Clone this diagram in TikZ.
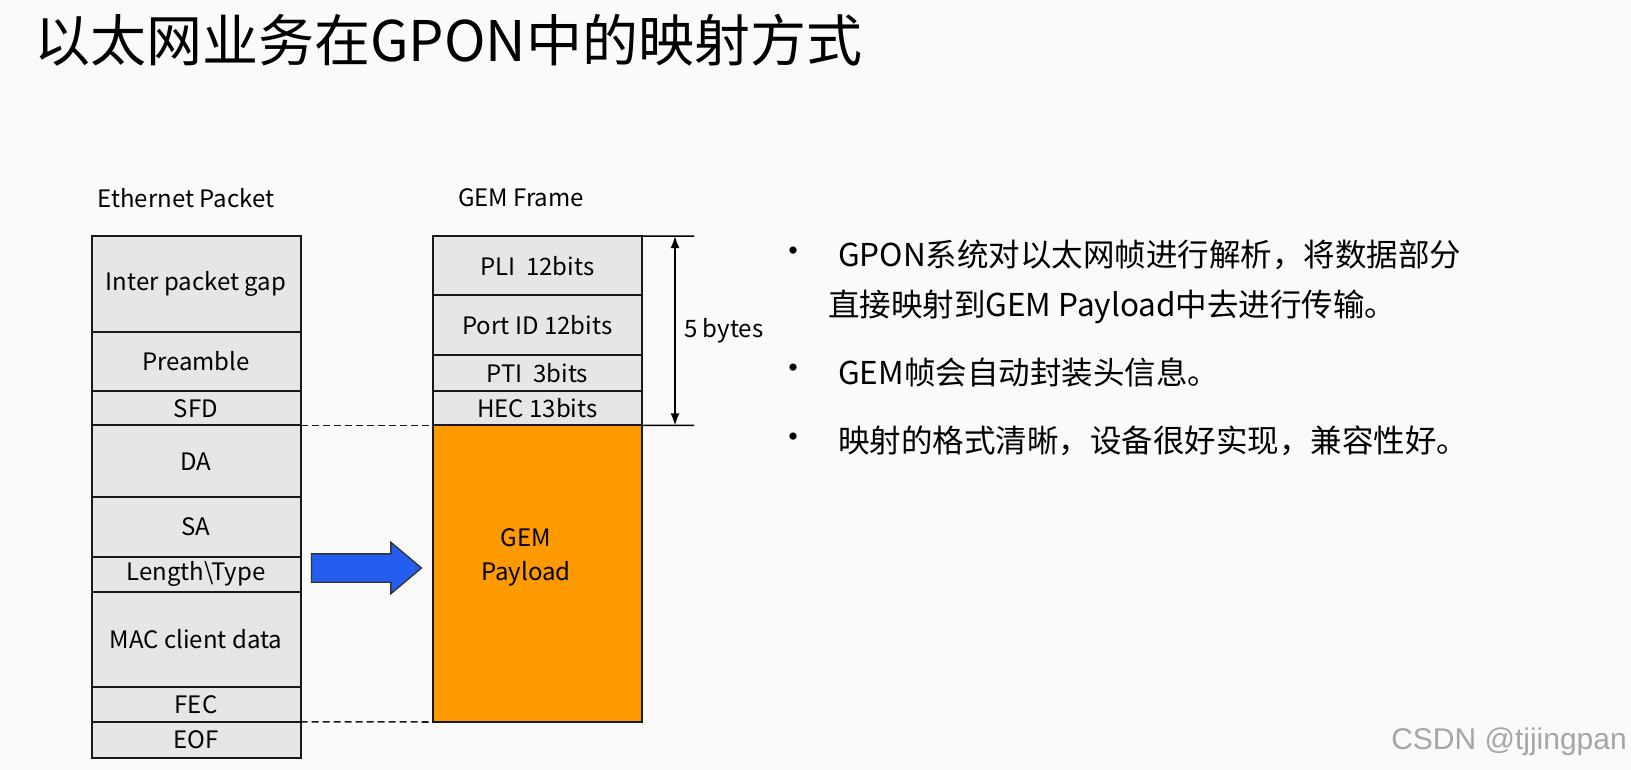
\documentclass[tikz,border=0pt]{standalone}
\usepackage{fontspec}
\setmainfont{Noto Sans CJK SC}
\newfontfamily\wmfont{Liberation Sans}
\usetikzlibrary{arrows.meta,shapes.arrows}
\definecolor{cellgray}{RGB}{230,230,230}
\definecolor{payloadorange}{RGB}{255,153,0}
\definecolor{mapblue}{RGB}{36,94,240}
\definecolor{pagebg}{RGB}{250,250,250}

\begin{document}
\begin{tikzpicture}[
  x=1pt,y=-1pt,
  field/.style={draw=black!90,line width=2pt,fill=cellgray,minimum width=209pt,
    inner sep=0pt,outer sep=0pt,font=\fontsize{24}{28}\selectfont},
  caption/.style={font=\fontsize{24}{28}\selectfont},
  bullettext/.style={anchor=west,inner sep=0pt,font=\fontsize{31.5}{36}\selectfont},
  guide/.style={dash pattern=on 7pt off 4pt,line width=1.6pt,draw=black!90}
]
  \fill[pagebg] (0,0) rectangle (1631,770);
  \useasboundingbox (0,0) rectangle (1631,770);

  \node[anchor=west,inner sep=0pt,font=\fontsize{56}{60}\selectfont] (title) at (34,40) {以太网业务在GPON中的映射方式};

  \node[caption] (ethlabel) at (186,198) {Ethernet Packet};
  \node[caption] (gemlabel) at (521,198) {GEM Frame};

  % ethernet packet
  \node[field,minimum height=95.7pt] (gap) at (196,284) {Inter packet gap};
  \node[field,minimum height=59.3pt] (preamble) at (196,361.5) {Preamble};
  \node[field,minimum height=34.3pt] (sfd) at (196,408.3) {SFD};
  \node[field,minimum height=71.8pt] (da) at (196,461.3) {DA};
  \node[field,minimum height=59.3pt] (sa) at (196,526.9) {SA};
  \node[field,minimum height=35.4pt] (lentype) at (196,574.2) {Length\textbackslash Type};
  \node[field,minimum height=94.6pt] (mac) at (196,639.2) {MAC client data};
  \node[field,minimum height=35.4pt] (fec) at (196,704.2) {FEC};
  \node[field,minimum height=36.4pt] (eof) at (196,740.1) {EOF};

  % gem frame
  \node[field,minimum height=59.3pt] (pli) at (537.3,265.8) {PLI\ \ 12bits};
  \node[field,minimum height=59.3pt] (portid) at (537.3,325) {Port ID 12bits};
  \node[field,minimum height=36.4pt] (pti) at (537.3,372.9) {PTI\ \ 3bits};
  \node[field,minimum height=34.3pt] (hec) at (537.3,408.3) {HEC 13bits};
  \node[field,fill=payloadorange,minimum height=296.5pt] (payload) at (537.3,573.7) {};
  \node[align=center,font=\fontsize{24}{34}\selectfont] (payloadtext) at (526,557) {GEM\\Payload};

  \draw[guide] (sfd.south east) -- (hec.south west);
  \draw[guide] (fec.south east) -- (payload.south west);

  \node[single arrow,fill=mapblue,draw=black!80,line width=1.4pt,
    minimum height=110pt,minimum width=50pt,inner xsep=0pt,inner ysep=13.5pt,
    single arrow head extend=11.5pt,single arrow tip angle=80] (maparrow) at (358,568) {};

  % 5 bytes
  \coordinate (exttop) at (694,236.1);
  \coordinate (extbot) at (694,425.4);
  \coordinate (dimtop) at (675,236.1);
  \coordinate (dimbot) at (675,425.4);
  \draw[line width=1.4pt] (pli.north east) -- (exttop);
  \draw[line width=1.4pt] (payload.north east) -- (extbot);
  \draw[{Latex[length=12pt,width=9pt]}-{Latex[length=12pt,width=9pt]},line width=1.5pt]
    (dimtop) -- node[caption,anchor=west,xshift=5pt] (bytes) {5 bytes} (dimbot);

  % bullets
  \node[font=\fontsize{34}{36}\selectfont] (dot1) at (793,255) {•};
  \node[bullettext] (point1a) at (838,255) {GPON系统对以太网帧进行解析，将数据部分};
  \node[bullettext] (point1b) at (828,307) {直接映射到GEM Payload中去进行传输。};
  \node[font=\fontsize{34}{36}\selectfont] (dot2) at (793,372) {•};
  \node[bullettext] (point2) at (838,372) {GEM帧会自动封装头信息。};
  \node[font=\fontsize{34}{36}\selectfont] (dot3) at (793,441) {•};
  \node[bullettext] (point3) at (838,441) {映射的格式清晰，设备很好实现，兼容性好。};

  \node[anchor=east,inner sep=0pt,font=\wmfont\fontsize{30}{32}\selectfont,text=black!35] (watermark) at (1627,742) {CSDN @tjjingpan};
\end{tikzpicture}
\end{document}
